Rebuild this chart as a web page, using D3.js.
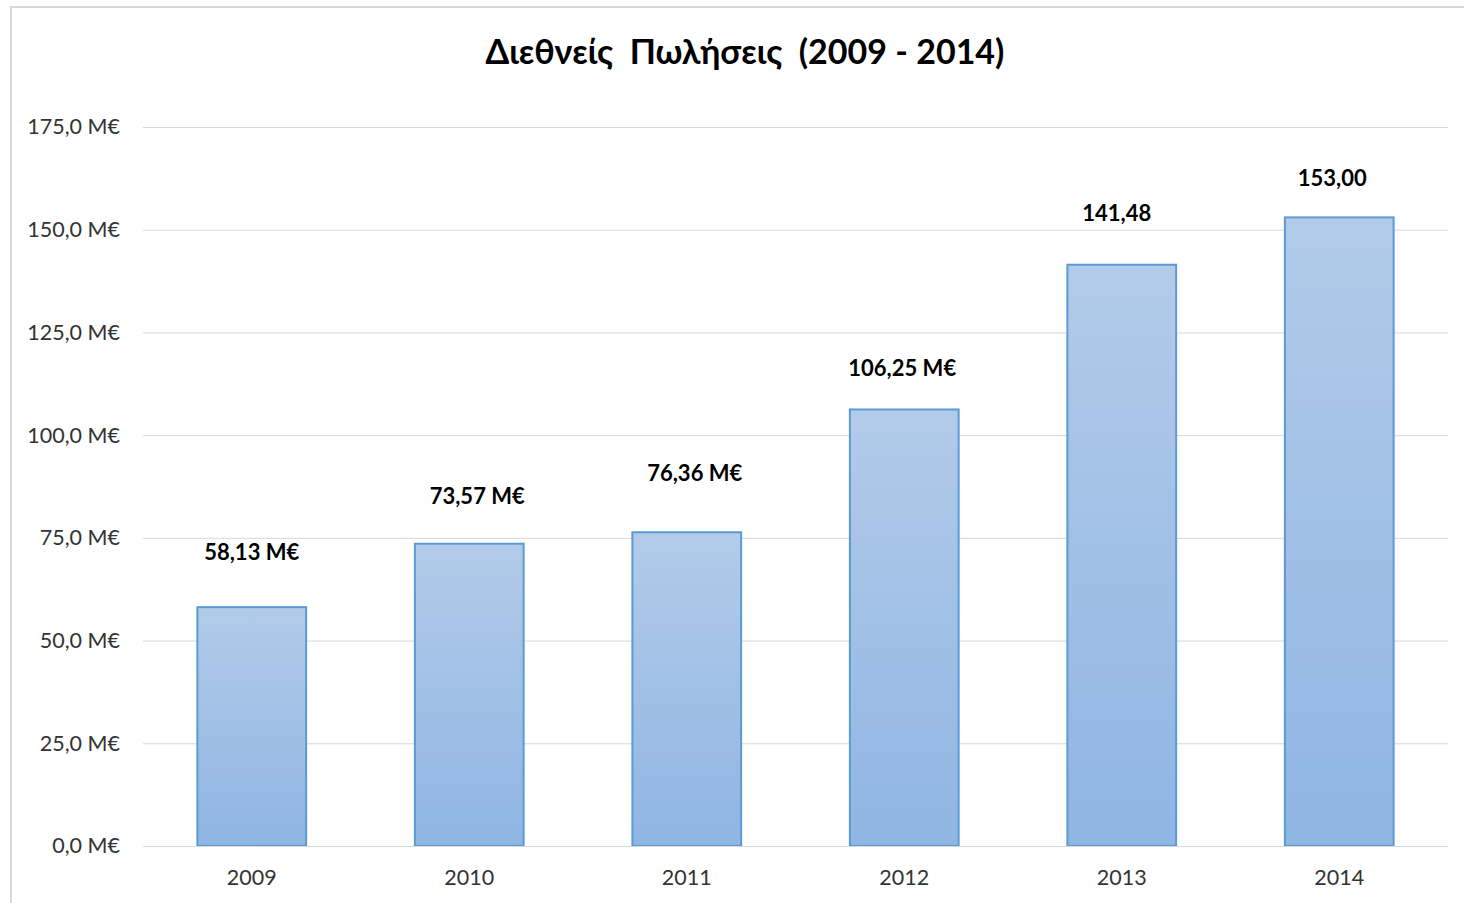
<!DOCTYPE html>
<html>
<head>
<meta charset="utf-8">
<script src="https://cdn.jsdelivr.net/npm/d3@7"></script>
<style>
  body { margin: 0; background: #fff; }
  svg { display: block; }
</style>
</head>
<body>
<svg id="chart"></svg>
<script>
// chart data
const years = ['2009', '2010', '2011', '2012', '2013', '2014'];
const sales = [58.13, 73.57, 76.36, 106.25, 141.48, 153.0];
const salesLabels = ['58,13 M€', '73,57 M€', '76,36 M€', '106,25 M€', '141,48', '153,00'];
const yTicks = [0, 25, 50, 75, 100, 125, 150, 175];
const title = 'Διεθνείς  Πωλήσεις  (2009 - 2014)';

const cfg = {
  width: 1464,
  height: 903,
  plotLeft: 143,
  plotRight: 1448,
  plotTop: 127,
  plotBottom: 846,
  gridColor: '#d9d9d9',
  barStroke: '#5b9bd5',
  font: 'Lato, "Noto Sans", "DejaVu Sans", sans-serif',
  // hand-placed label nudges (dx, gap above the bar top)
  labelDx: [0, 8, 8, -2, -5, -7],
  labelGap: [55, 47, 59, 41, 51, 39],
};

const svg = d3.select('#chart')
  .attr('width', cfg.width)
  .attr('height', cfg.height);

// gradient for the bars
const grad = svg.append('defs')
  .append('linearGradient')
  .attr('id', 'barFill')
  .attr('x1', 0).attr('y1', 0).attr('x2', 0).attr('y2', 1);
grad.append('stop').attr('offset', '0%').attr('stop-color', '#b2cbe9');
grad.append('stop').attr('offset', '100%').attr('stop-color', '#8fb5e3');

// chart border
svg.append('rect')
  .attr('x', 11)
  .attr('y', 7)
  .attr('width', cfg.width)
  .attr('height', cfg.height)
  .attr('fill', 'none')
  .attr('stroke', cfg.gridColor)
  .attr('stroke-width', 2);

// title
svg.append('text')
  .text(title)
  .attr('x', 745)
  .attr('y', 64)
  .attr('text-anchor', 'middle')
  .style('font-family', cfg.font)
  .style('font-weight', 'bold')
  .style('font-size', '34px')
  .style('white-space', 'pre')
  .attr('fill', '#000');

// scales
const x = d3.scaleBand()
  .domain(years)
  .range([cfg.plotLeft, cfg.plotRight])
  .paddingInner(0.5)
  .paddingOuter(0.25);

const y = d3.scaleLinear()
  .domain([0, 175])
  .range([cfg.plotBottom, cfg.plotTop]);

// y axis with gridlines
const yAxis = svg.append('g')
  .attr('transform', 'translate(' + cfg.plotLeft + ',0)')
  .call(
    d3.axisLeft(y)
      .tickValues(yTicks)
      .tickSize(-(cfg.plotRight - cfg.plotLeft))
      .tickPadding(23)
      .tickFormat(d => d3.format('.1f')(d).replace('.', ',') + ' M€')
  );
yAxis.select('.domain').remove();
yAxis.selectAll('.tick line').attr('stroke', cfg.gridColor).attr('stroke-width', 1);
yAxis.selectAll('.tick text')
  .style('font-family', cfg.font)
  .style('font-size', '21.5px')
  .attr('fill', '#333');

// bars
svg.selectAll('.bar')
  .data(sales)
  .enter()
  .append('rect')
  .classed('bar', true)
  .attr('x', (d, i) => x(years[i]))
  .attr('y', d => y(d))
  .attr('width', x.bandwidth())
  .attr('height', d => y(0) - y(d))
  .attr('fill', 'url(#barFill)')
  .attr('stroke', cfg.barStroke)
  .attr('stroke-width', 2);

// x axis
const xAxis = svg.append('g')
  .attr('transform', 'translate(0,' + cfg.plotBottom + ')')
  .call(d3.axisBottom(x).tickSize(0).tickPadding(24));
xAxis.select('.domain').attr('stroke', cfg.gridColor);
xAxis.selectAll('.tick text')
  .style('font-family', cfg.font)
  .style('font-size', '21.5px')
  .attr('fill', '#333');

// value labels
svg.selectAll('.valueLabel')
  .data(sales)
  .enter()
  .append('text')
  .classed('valueLabel', true)
  .text((d, i) => salesLabels[i])
  .attr('x', (d, i) => x(years[i]) + x.bandwidth() / 2 + cfg.labelDx[i])
  .attr('y', (d, i) => y(d) - cfg.labelGap[i])
  .attr('dy', '0.35em')
  .attr('text-anchor', 'middle')
  .style('font-family', cfg.font)
  .style('font-weight', 'bold')
  .style('font-size', '22px')
  .attr('fill', '#000');
</script>
</body>
</html>
